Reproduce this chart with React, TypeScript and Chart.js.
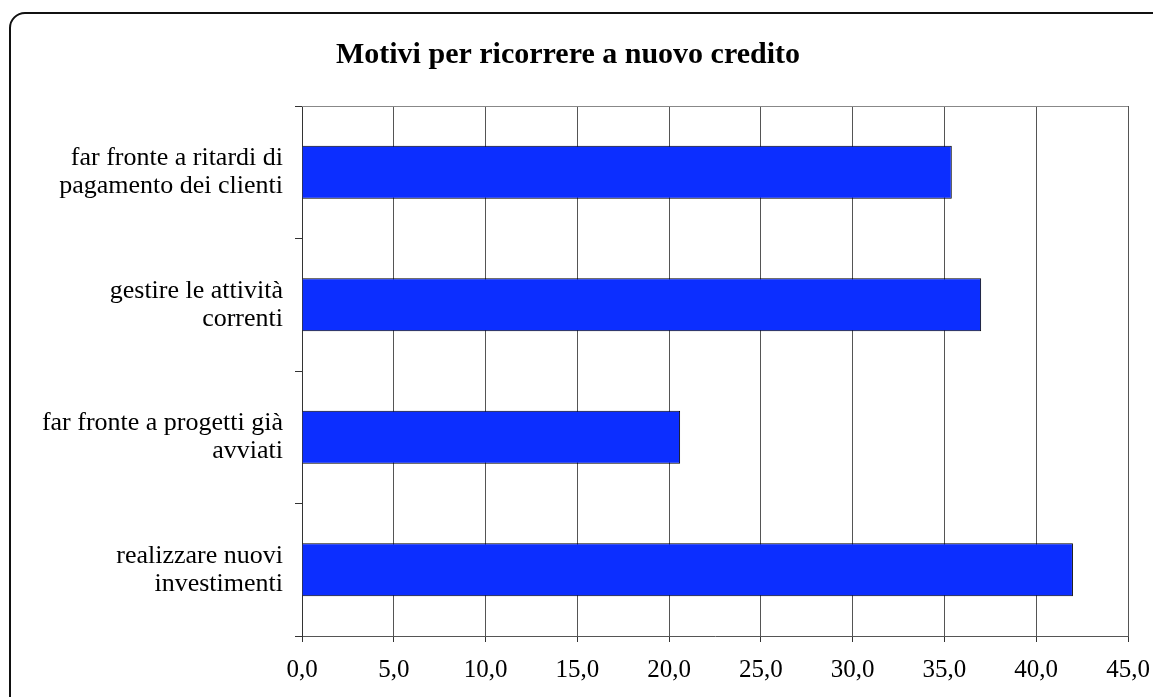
import React, { useEffect, useRef } from "react";
import { Chart, registerables } from "chart.js";

Chart.register(...registerables);

const TITLE = "Motivi per ricorrere a nuovo credito";
const categories: string[][] = [
  ["far fronte a ritardi di", "pagamento dei clienti"],
  ["gestire le attività", "correnti"],
  ["far fronte a progetti già", "avviati"],
  ["realizzare nuovi", "investimenti"],
];
const values: number[] = [35.4, 37.0, 20.6, 42.0];
const xMin = 0;
const xMax = 45;
const xStep = 5;

const FONT = "'Liberation Serif', 'Times New Roman', serif";

export default function App() {
  const ref = useRef<HTMLCanvasElement | null>(null);

  useEffect(() => {
    if (!ref.current) return;
    const titlePlugin = {
      id: "customTitle",
      afterDraw(chart: any) {
        const ctx = chart.ctx;
        ctx.save();
        ctx.font = `bold 30px ${FONT}`;
        ctx.fillStyle = "#000";
        ctx.textAlign = "center";
        ctx.textBaseline = "alphabetic";
        ctx.fillText(TITLE, 568, 63);
        ctx.restore();
      },
    };
    const framePlugin = {
      id: "frameTop",
      beforeDatasetsDraw(chart: any) {
        const { ctx, chartArea } = chart;
        ctx.save();
        ctx.strokeStyle = "#888";
        ctx.lineWidth = 1;
        ctx.beginPath();
        ctx.moveTo(chartArea.left, Math.round(chartArea.top) + 0.5);
        ctx.lineTo(chartArea.right, Math.round(chartArea.top) + 0.5);
        ctx.stroke();
        ctx.restore();
      },
    };
    const chart = new Chart(ref.current, {
      type: "bar",
      data: {
        labels: categories,
        datasets: [
          {
            data: values,
            backgroundColor: "#0c2eff",
            borderColor: "#000",
            borderWidth: 1,
            barPercentage: 0.4,
            categoryPercentage: 1,
          },
        ],
      },
      options: {
        indexAxis: "y",
        animation: false,
        responsive: true,
        maintainAspectRatio: false,
        layout: { padding: { left: 0, top: 106, right: 25, bottom: 0 } },
        plugins: {
          legend: { display: false },
          tooltip: { enabled: false },
          title: { display: false },
        },
        scales: {
          x: {
            min: xMin,
            max: xMax,
            ticks: {
              stepSize: xStep,
              color: "#000",
              font: { family: FONT, size: 25 },
              padding: 13,
              maxRotation: 0,
              callback: (v: any) => Number(v).toFixed(1).replace(".", ","),
            },
            grid: {
              color: "#555",
              lineWidth: 1,
              drawTicks: true,
              tickLength: 6,
              tickColor: "#333",
            },
            border: { display: true, color: "#555", width: 1 },
            afterFit(scale: any) {
              scale.height = 61;
              scale.paddingLeft = 0;
              scale.paddingRight = 0;
            },
          },
          y: {
            ticks: {
              color: "#000",
              font: { family: FONT, size: 26, lineHeight: 1.08 },
              padding: 12,
              crossAlign: "near",
            },
            grid: {
              drawOnChartArea: false,
              drawTicks: true,
              tickLength: 7,
              color: "#333",
              offset: true,
            },
            border: { display: true, color: "#333", width: 1 },
            afterFit(scale: any) {
              scale.width = 302;
              scale.paddingTop = 0;
              scale.paddingBottom = 0;
            },
          },
        },
      },
      plugins: [titlePlugin, framePlugin],
    });
    return () => chart.destroy();
  }, []);

  return (
    <div
      style={{
        position: "fixed",
        left: 0,
        top: 0,
        width: 1153,
        height: 697,
        background: "#fff",
        overflow: "hidden",
      }}
    >
      <div
        style={{
          position: "absolute",
          left: 9,
          top: 12,
          width: 1160,
          height: 700,
          border: "2px solid #111",
          borderRadius: 16,
          boxSizing: "border-box",
          pointerEvents: "none",
        }}
      />
      <canvas ref={ref} style={{ position: "absolute", left: 0, top: 0 }} />
    </div>
  );
}
